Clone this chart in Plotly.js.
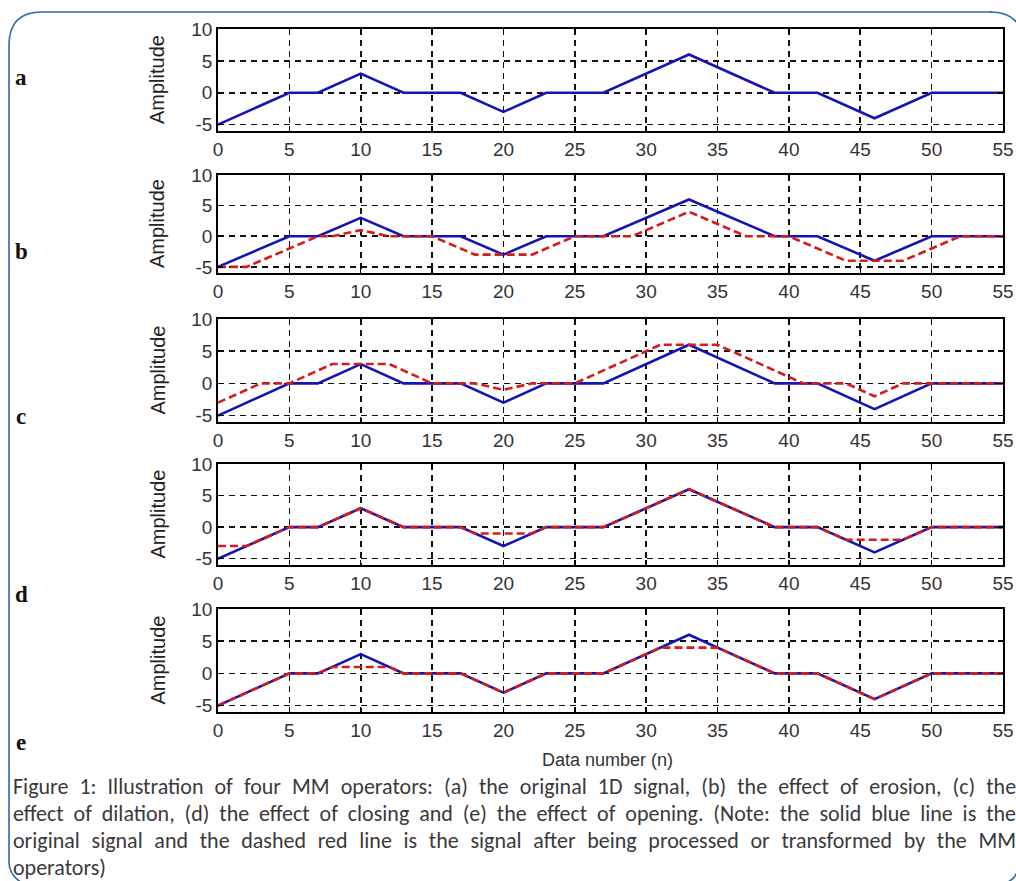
<!DOCTYPE html>
<html>
<head>
<meta charset="utf-8">
<script src="https://cdn.plot.ly/plotly-3.0.1.min.js"></script>
<style>
html,body{margin:0;padding:0;background:#fff;}
#chart{width:1016px;height:881px;}
</style>
</head>
<body>
<div id="chart"></div>
<script>
// ---- data ----
const originalX = [0,5,7,10,13,17,20,23,27,33,39,42,46,50,55];
const originalY = [-5,0,0,3,0,0,-3,0,0,6,0,0,-4,0,0];

const erosionX = [0,2,7,8,10,12,15,18,22,25,29,33,37,40,44,48,52,55];
const erosionY = [-5,-5,0,0,1,0,0,-3,-3,0,0,4,0,0,-4,-4,0,0];

const dilationX = [0,3,5,8,12,15,18,20,22,25,31,35,41,44,46,48,55];
const dilationY = [-3,0,0,3,3,0,0,-1,0,0,6,6,0,0,-2,0,0];

const closingX = [0,2,5,7,10,13,17,18,22,23,27,33,39,42,44,48,50,55];
const closingY = [-3,-3,0,0,3,0,0,-1,-1,0,0,6,0,0,-2,-2,0,0];

const openingX = [0,5,7,8,12,13,17,20,23,27,31,35,39,42,46,50,55];
const openingY = [-5,0,0,1,1,0,0,-3,0,0,4,4,0,0,-4,0,0];

const panelLetters = ['a','b','c','d','e'];
const xTickVals = [0,5,10,15,20,25,30,35,40,45,50,55];
const yTickVals = [-5,0,5,10];
const yTitle = 'Amplitude';
const xTitle = 'Data number (n)';
const captionLines = [
  'Figure 1: Illustration of four MM operators: (a) the original 1D signal, (b) the effect of erosion, (c) the',
  'effect of dilation, (d) the effect of closing and (e) the effect of opening. (Note: the solid blue line is the',
  'original signal and the dashed red line is the signal after being processed or transformed by the MM',
  'operators)'
];

// ---- layout helpers ----
const W = 1016, H = 881;
const px = x => x / W;
const py = y => 1 - y / H;

const panelTop = [29,175,319,464,609];
const panelBot = [131,273,422,565,712];
const letterY = [77,251,416,594,742];

const BLUE = '#1414b4';
const RED = '#d41c1c';

const processed = [null,
  {x: erosionX, y: erosionY},
  {x: dilationX, y: dilationY},
  {x: closingX, y: closingY},
  {x: openingX, y: openingY}];

const data = [];
const layout = {
  width: W, height: H,
  margin: {l:0, r:0, t:0, b:0, pad:0},
  paper_bgcolor: '#ffffff',
  plot_bgcolor: '#ffffff',
  showlegend: false,
  annotations: [],
  shapes: []
};

const tickFont = {family: 'Liberation Sans, Arial, sans-serif', size: 19, color: '#333333'};

for (let i = 0; i < 5; i++) {
  const sfx = i === 0 ? '' : String(i + 1);
  const xa = 'x' + sfx, ya = 'y' + sfx;
  data.push({x: originalX, y: originalY, xaxis: xa, yaxis: ya, mode: 'lines',
    line: {color: BLUE, width: 2.6}, hoverinfo: 'skip'});
  if (processed[i]) {
    data.push({x: processed[i].x, y: processed[i].y, xaxis: xa, yaxis: ya, mode: 'lines',
      line: {color: RED, width: 2.6, dash: '8px,4px'}, hoverinfo: 'skip'});
  }
  layout['xaxis' + sfx] = {
    domain: [px(218), px(1003)], anchor: ya, range: [0, 55],
    tickmode: 'array', tickvals: xTickVals, ticktext: xTickVals.map(String),
    ticks: 'inside', ticklen: 5, tickwidth: 1.5, tickcolor: '#000',
    showline: true, linecolor: '#000', linewidth: 1.8, mirror: 'ticks',
    showgrid: true, gridcolor: '#111', gridwidth: 1.6, griddash: '6px,5px',
    zeroline: false, tickfont: tickFont, automargin: false, fixedrange: true
  };
  layout['yaxis' + sfx] = {
    domain: [py(panelBot[i]), py(panelTop[i])], anchor: xa, range: [-6, 10],
    tickmode: 'array', tickvals: yTickVals, ticktext: yTickVals.map(String),
    ticks: 'inside', ticklen: 5, tickwidth: 1.5, tickcolor: '#000',
    showline: true, linecolor: '#000', linewidth: 1.8, mirror: 'ticks',
    showgrid: true, gridcolor: '#111', gridwidth: 1.6, griddash: '6px,5px',
    zeroline: false, tickfont: tickFont, automargin: false, fixedrange: true
  };
  // y axis label
  layout.annotations.push({
    xref: 'paper', yref: 'paper', x: px(157), y: py((panelTop[i] + panelBot[i]) / 2),
    text: yTitle, textangle: -90, showarrow: false, xanchor: 'center', yanchor: 'middle',
    font: {family: 'Liberation Sans, Arial, sans-serif', size: 20, color: '#222'}
  });
  // panel letter
  layout.annotations.push({
    xref: 'paper', yref: 'paper', x: px(21), y: py(letterY[i]),
    text: '<b>' + panelLetters[i] + '</b>', showarrow: false, xanchor: 'center', yanchor: 'middle',
    font: {family: 'Liberation Serif, Times New Roman, serif', size: 23, color: '#111'}
  });
}

// x axis title under the last panel
layout.annotations.push({
  xref: 'paper', yref: 'paper', x: px(607), y: py(760),
  text: xTitle, showarrow: false, xanchor: 'center', yanchor: 'middle',
  font: {family: 'Liberation Sans, Arial, sans-serif', size: 18, color: '#333'}
});

// caption lines
const captionStart = layout.annotations.length;
const captionY = [786, 813, 840, 867];
captionLines.forEach((t, k) => {
  layout.annotations.push({
    xref: 'paper', yref: 'paper', x: px(11), y: py(captionY[k]),
    text: t, showarrow: false, xanchor: 'left', yanchor: 'middle', align: 'left',
    font: {family: 'Carlito, Lato, sans-serif', size: 22, color: '#3a3a3a'}
  });
});

// rounded frame
const frameColor = '#2c6aa8';
layout.shapes.push({
  type: 'path', xref: 'paper', yref: 'paper',
  path: `M ${px(992)},${py(12)} L ${px(42)},${py(12)} Q ${px(9)},${py(12)} ${px(9)},${py(45)} L ${px(9)},${py(862)} Q ${px(9)},${py(876)} ${px(24)},${py(884)}`,
  line: {color: frameColor, width: 1.6}
});
layout.shapes.push({
  type: 'path', xref: 'paper', yref: 'paper',
  path: `M ${px(990)},${py(12)} Q ${px(1010)},${py(12)} ${px(1018)},${py(24)}`,
  line: {color: frameColor, width: 1.6}
});
layout.shapes.push({
  type: 'path', xref: 'paper', yref: 'paper',
  path: `M ${px(1008)},${py(882)} Q ${px(1015)},${py(878)} ${px(1017)},${py(872)}`,
  line: {color: frameColor, width: 1.6}
});

Plotly.newPlot('chart', data, layout, {staticPlot: true, displayModeBar: false}).then(gd => {
  // justify the first three caption lines
  const target = 1014 - 11;
  for (let k = 0; k < 3; k++) {
    const g = gd.querySelector(`.annotation[data-index="${captionStart + k}"]`);
    if (!g) continue;
    const t = g.querySelector('text');
    if (!t) continue;
    const w = t.getComputedTextLength();
    const spaces = (captionLines[k].match(/ /g) || []).length;
    if (spaces > 0) {
      const ws = (target - w) / spaces;
      t.setAttribute('word-spacing', ws.toFixed(2));
      t.style.wordSpacing = ws.toFixed(2) + 'px';
    }
  }
});
</script>
</body>
</html>
